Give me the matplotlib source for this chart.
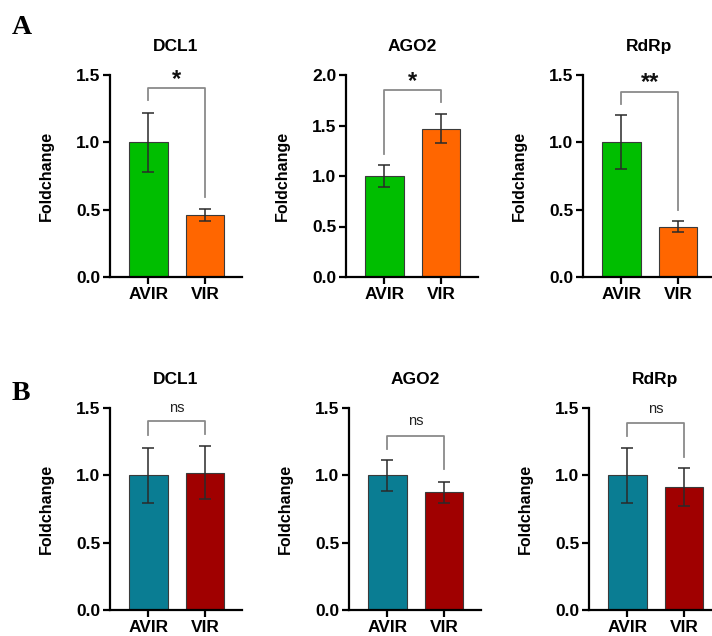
import matplotlib.pyplot as plt

plt.rcParams['font.family'] = ['Liberation Sans', 'DejaVu Sans']

groups = ['AVIR', 'VIR']

# panel A
genes_a = ['DCL1', 'AGO2', 'RdRp']
means_a = [[1.0, 0.46], [1.0, 1.47], [1.0, 0.375]]
errs_a = [[0.22, 0.045], [0.11, 0.14], [0.20, 0.042]]
ylims_a = [1.5, 2.0, 1.5]
yticks_a = [[0.0, 0.5, 1.0, 1.5], [0.0, 0.5, 1.0, 1.5, 2.0], [0.0, 0.5, 1.0, 1.5]]
sig_a = ['*', '*', '**']
# bracket: top, left leg end, right leg end, label y
brackets_a = [[1.40, 1.315, 0.595, 1.465], [1.85, 1.22, 1.73, 1.94], [1.376, 1.284, 0.497, 1.445]]

# panel B
genes_b = ['DCL1', 'AGO2', 'RdRp']
means_b = [[1.0, 1.02], [1.0, 0.875], [1.0, 0.915]]
errs_b = [[0.205, 0.196], [0.115, 0.077], [0.205, 0.14]]
ylims_b = [1.5, 1.5, 1.5]
yticks_b = [[0.0, 0.5, 1.0, 1.5]] * 3
sig_b = ['ns', 'ns', 'ns']
brackets_b = [[1.40, 1.298, 1.308, 1.50], [1.295, 1.196, 1.047, 1.40], [1.39, 1.29, 1.136, 1.49]]

colors_a = ['#00BE00', '#FF6600']
colors_b = ['#0A7D93', '#A00000']

W, H = 712, 636
fig = plt.figure(figsize=(W / 100, H / 100), dpi=100)

ax_w = 131.6
ax_h = 202
lefts_a = [110, 346, 583]
lefts_b = [110, 349, 589]
bottom_a = 277
bottom_b = 610


def draw(ax, gene, means, errs, ymax, yticks, sig, br, colors):
    x = [0, 1]
    ax.bar(x, means, width=0.68, color=colors, edgecolor='#3a3a3a', linewidth=0.8, zorder=2)
    ax.errorbar(x, means, yerr=errs, fmt='none', ecolor='#2a2a2a', elinewidth=1.1,
                capsize=4, capthick=1.1, zorder=3)
    top, l_end, r_end, ly = br
    ax.plot([0, 0, 1, 1], [l_end, top, top, r_end], color='#8a8a8a', lw=1.3,
            zorder=4, clip_on=False)
    if sig == 'ns':
        ax.text(0.5, ly, sig, ha='center', va='center', fontsize=10.5, color='#222222')
    else:
        ax.text(0.5, ly, sig, ha='center', va='center', fontsize=17, fontweight='bold',
                color='#111111')
    ax.set_xlim(-0.68, 1.65)
    ax.set_ylim(0, ymax)
    ax.set_yticks(yticks)
    ax.set_yticklabels([f'{t:.1f}' for t in yticks])
    ax.set_xticks(x)
    ax.set_xticklabels(groups)
    for lab in ax.get_xticklabels() + ax.get_yticklabels():
        lab.set_fontweight('bold')
        lab.set_fontsize(12.5)
    ax.spines['top'].set_visible(False)
    ax.spines['right'].set_visible(False)
    ax.spines['left'].set_linewidth(1.6)
    ax.spines['bottom'].set_linewidth(1.6)
    ax.tick_params(axis='both', width=1.6, length=5, pad=2, color='black')
    ax.set_ylabel('Foldchange', fontsize=11.5, fontweight='bold', labelpad=16)
    ax.set_title(gene, fontsize=12.5, fontweight='bold', pad=17)


for i in range(3):
    ax = fig.add_axes([lefts_a[i] / W, (H - bottom_a) / H, ax_w / W, ax_h / H])
    draw(ax, genes_a[i], means_a[i], errs_a[i], ylims_a[i], yticks_a[i], sig_a[i],
         brackets_a[i], colors_a)
    ax = fig.add_axes([lefts_b[i] / W, (H - bottom_b) / H, ax_w / W, ax_h / H])
    draw(ax, genes_b[i], means_b[i], errs_b[i], ylims_b[i], yticks_b[i], sig_b[i],
         brackets_b[i], colors_b)

fig.text(12 / W, 1 - 27 / H, 'A', fontsize=20, fontweight='bold', family='Liberation Serif',
         va='center')
fig.text(12 / W, 1 - 394 / H, 'B', fontsize=20, fontweight='bold', family='Liberation Serif',
         va='center')

fig.savefig('out.png', dpi=100)
